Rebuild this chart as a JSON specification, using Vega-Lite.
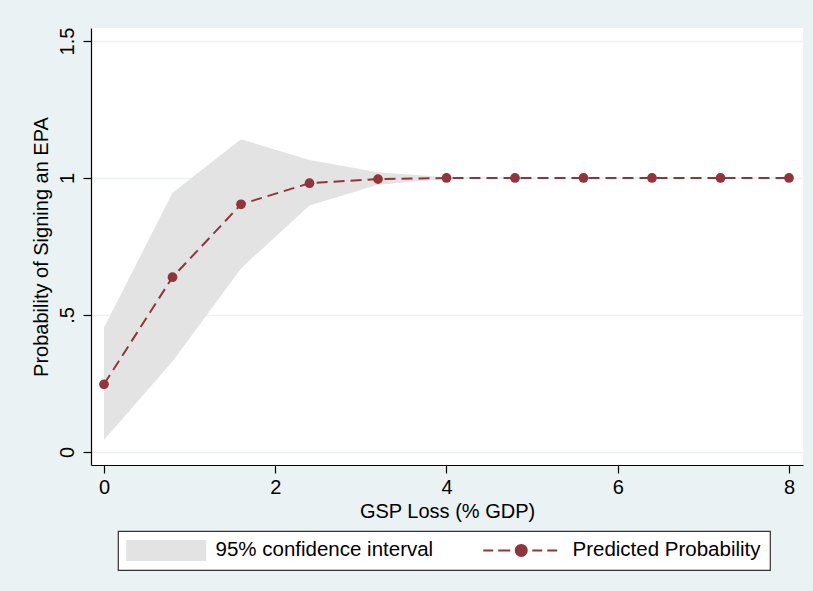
{
  "$schema": "https://vega.github.io/schema/vega-lite/v6.json",
  "width": 712,
  "height": 437,
  "autosize": {"type": "none"},
  "padding": {"left": 91, "top": 28, "right": 10, "bottom": 126},
  "background": "#eaf2f3",
  "config": {
    "view": {"fill": "white", "stroke": null},
    "font": "Liberation Sans",
    "axis": {
      "domainColor": "#000000",
      "domainWidth": 1.2,
      "tickColor": "#000000",
      "tickWidth": 1.2,
      "tickSize": 8,
      "labelFontSize": 20,
      "labelColor": "#000000",
      "titleFontSize": 20,
      "titleFontWeight": "normal",
      "titleColor": "#000000",
      "gridColor": "#eaf2f3",
      "gridWidth": 1.5
    }
  },
  "data": {
    "values": [
      {"gsp": 0.0, "p": 0.247, "lo": 0.044, "hi": 0.454},
      {"gsp": 0.8, "p": 0.638, "lo": 0.330, "hi": 0.946},
      {"gsp": 1.6, "p": 0.904, "lo": 0.670, "hi": 1.141},
      {"gsp": 2.4, "p": 0.981, "lo": 0.900, "hi": 1.066},
      {"gsp": 3.2, "p": 0.996, "lo": 0.975, "hi": 1.021},
      {"gsp": 4.0, "p": 1.0, "lo": 0.997, "hi": 1.003},
      {"gsp": 4.8, "p": 1.0, "lo": 0.9995, "hi": 1.0005},
      {"gsp": 5.6, "p": 1.0, "lo": 0.9995, "hi": 1.0005},
      {"gsp": 6.4, "p": 1.0, "lo": 0.9995, "hi": 1.0005},
      {"gsp": 7.2, "p": 1.0, "lo": 0.9995, "hi": 1.0005},
      {"gsp": 8.0, "p": 1.0, "lo": 0.9995, "hi": 1.0005}
    ]
  },
  "encoding": {
    "x": {
      "field": "gsp",
      "type": "quantitative",
      "scale": {"domain": [-0.1518, 8.1635], "nice": false, "zero": false},
      "axis": {
        "title": "GSP Loss (% GDP)",
        "values": [0, 2, 4, 6, 8],
        "grid": false,
        "labelPadding": 4,
        "titlePadding": 4
      }
    }
  },
  "layer": [
    {
      "mark": {"type": "area", "opacity": 1},
      "encoding": {
        "y": {
          "field": "lo",
          "type": "quantitative",
          "scale": {"domain": [-0.0474, 1.5474], "nice": false, "zero": false},
          "axis": {
            "title": "Probability of Signing an EPA",
            "values": [0, 0.5, 1, 1.5],
            "labelExpr": "datum.value == 0.5 ? '.5' : datum.label",
            "format": "~g",
            "grid": true,
            "labelAngle": -90,
            "labelAlign": "center",
            "labelBaseline": "bottom",
            "labelPadding": 6,
            "titlePadding": 6
          }
        },
        "y2": {"field": "hi"},
        "color": {
          "datum": "95% confidence interval",
          "type": "nominal",
          "scale": {
            "domain": ["95% confidence interval", "Predicted Probability"],
            "range": ["#e3e3e3", "#90353b"]
          },
          "legend": {
            "title": null,
            "orient": "none",
            "legendX": 27,
            "legendY": 503,
            "direction": "horizontal",
            "strokeColor": "#333333",
            "fillColor": "#ffffff",
            "padding": 9,
            "columnPadding": 45,
            "symbolSize": 400,
            "symbolStrokeWidth": 2,
            "labelFontSize": 20.5,
            "labelColor": "#000000",
            "labelOffset": 68,
            "labelLimit": 400,
            "labelExpr": "datum.label == 'Predicted Probability' ? datum.label + '\u00a0\u00a0' : datum.label",
            "symbolOpacity": 1,
            "encode": {
              "legend": {
                "update": {"strokeWidth": {"value": 1.2}}
              },
              "symbols": {
                "update": {
                  "shape": {"signal": "datum.value == '95% confidence interval' ? 'M-1.1,-1.05H6.9V1.05H-1.1Z' : 'M-1.1,0H-0.1M0.4,0H1.6M3.8,0H4.8M5.3,0H6.3M3.25,0A0.55,0.55 0 1,1 2.15,0A0.55,0.55 0 1,1 3.25,0Z'"},
                  "fill": {"signal": "datum.value == '95% confidence interval' ? '#e3e3e3' : '#90353b'"},
                  "stroke": {"signal": "datum.value == '95% confidence interval' ? '#e3e3e3' : '#90353b'"},
                  "strokeWidth": {"signal": "datum.value == '95% confidence interval' ? 0 : 2"},
                  "opacity": {"value": 1},
                  "fillOpacity": {"value": 1},
                  "strokeDash": {"value": []}
                }
              }
            }
          }
        }
      }
    },
    {
      "mark": {"type": "line", "strokeWidth": 2, "strokeDash": [11, 6]},
      "encoding": {
        "y": {"field": "p", "type": "quantitative"},
        "color": {"datum": "Predicted Probability", "type": "nominal"}
      }
    },
    {
      "mark": {"type": "point", "filled": true, "size": 95, "opacity": 1, "shape": "circle"},
      "encoding": {
        "y": {"field": "p", "type": "quantitative"},
        "color": {"datum": "Predicted Probability", "type": "nominal"}
      }
    }
  ]
}
